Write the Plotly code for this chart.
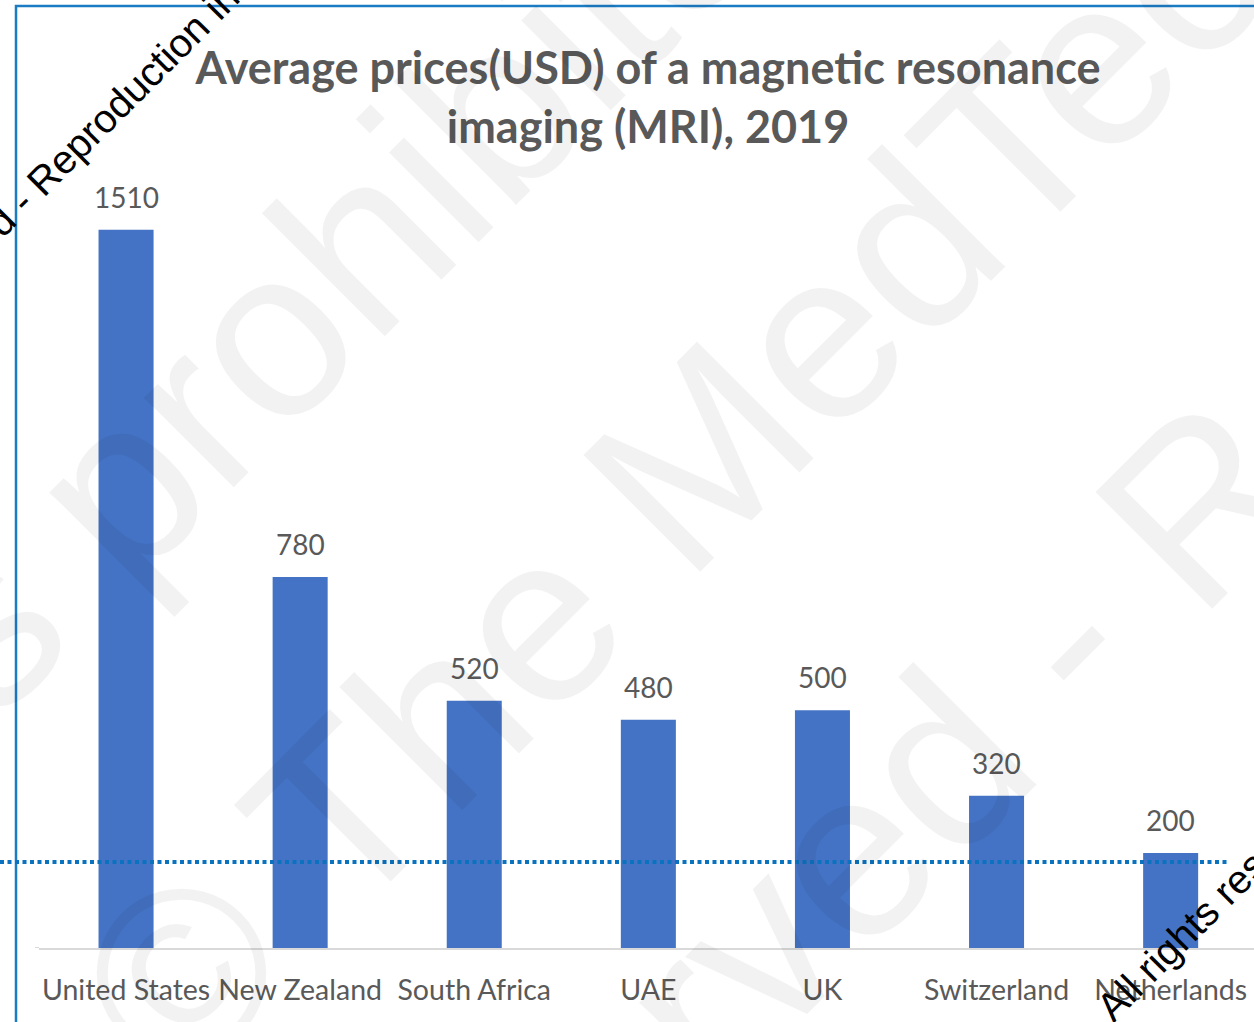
import math
import plotly.graph_objects as go

# ---------------- data ----------------
countries = ["United States", "New Zealand", "South Africa", "UAE", "UK", "Switzerland", "Netherlands"]
prices_usd = [1510, 780, 520, 480, 500, 320, 200]
title_line1 = "Average prices(USD) of a magnetic resonance"
title_line2 = "imaging (MRI), 2019"
reference_level = 181  # dotted horizontal guide line (USD)

# ---------------- geometry ----------------
W, H = 1254, 1022
ML, MR, MT, MB = 39, 0, 187, 74
PW, PH = W - ML - MR, H - MT - MB
Y_MAX = 1600


def px_x(px):
    return (px - ML) / PW


def px_y(py):
    return (H - MB - py) / PH


def wm_anchor(gx, gy, pre_em, up_em, fs, ang=45):
    """paper position (left, bottom of rotated box) so that a reference glyph lands at (gx, gy)"""
    t = math.radians(ang)
    ux, uy = math.cos(t), -math.sin(t)
    vx, vy = -math.sin(t), -math.cos(t)
    d = 0.212 * fs + 2 + up_em * fs
    pre = pre_em * fs + 2
    blx = gx - pre * ux - d * vx
    bly = gy - pre * uy - d * vy
    hbox = 1.15 * fs + 4
    left = blx - hbox * math.sin(t)
    return px_x(left), px_y(bly)


fig = go.Figure()

fig.add_trace(go.Bar(
    x=countries,
    y=prices_usd,
    marker=dict(color="#4472C4", line=dict(width=0)),
    hoverinfo="x+y",
))

annotations = []
# data labels
for c, v in zip(countries, prices_usd):
    annotations.append(dict(
        x=c, y=v, xref="x", yref="y", text=str(v), showarrow=False,
        yanchor="bottom", yshift=14,
        font=dict(family="Lato, Calibri, sans-serif", size=28, color="#595959"),
    ))

# light grey watermark (on top, semi-transparent)
grey = "rgba(0,0,0,0.05)"
gfs = 240
for text, gx, gy, pre, up in [
    ("Reproduction is prohibited", 372, 266, 8.892, 0.26),
    ("© The MedTech", 840, 350, 4.127, 0.26),
    ("All rights reserved - Reproduction is prohibited", 1081, 651, 8.447, 0.28),
]:
    ax_, ay_ = wm_anchor(gx, gy, pre, up, gfs)
    annotations.append(dict(
        x=ax_, y=ay_, xref="paper", yref="paper", text=text, showarrow=False,
        xanchor="left", yanchor="bottom", textangle=-45,
        font=dict(family="Liberation Sans, Arial, sans-serif", size=gfs, color=grey),
    ))

# black watermark text
bfs = 40
for gx, gy, pre, up in [(45, 177, 9.252, 0.358), (1114, 1004, 0.333, 0.358)]:
    ax_, ay_ = wm_anchor(gx, gy, pre, up, bfs)
    annotations.append(dict(
        x=ax_, y=ay_, xref="paper", yref="paper",
        text="All rights reserved - Reproduction in whole or in part is prohibited",
        showarrow=False, xanchor="left", yanchor="bottom", textangle=-45,
        font=dict(family="Liberation Sans, Arial, sans-serif", size=bfs, color="#000000"),
    ))

shapes = [
    # frame (top and left edges visible)
    dict(type="rect", xref="paper", yref="paper",
         x0=px_x(16), x1=px_x(W + 20), y0=px_y(H + 20), y1=px_y(6),
         line=dict(color="#1B7BC3", width=2.5), fillcolor="rgba(0,0,0,0)", layer="above"),
    # baseline extension to the left
    dict(type="line", xref="paper", yref="y",
         x0=px_x(35), x1=0, y0=0, y1=0,
         line=dict(color="#D9D9D9", width=2), layer="above"),
    # dotted guide line
    dict(type="line", xref="paper", yref="y",
         x0=px_x(0), x1=px_x(1229), y0=reference_level, y1=reference_level,
         line=dict(color="#0A72BE", width=4, dash="4px,3.5px"), layer="above"),
]

fig.update_layout(
    width=W, height=H,
    margin=dict(l=ML, r=MR, t=MT, b=MB, autoexpand=False),
    paper_bgcolor="white", plot_bgcolor="white",
    showlegend=False,
    bargap=0.684,
    title=dict(
        text=title_line1 + "<br>" + title_line2,
        x=648 / W, xanchor="center",
        y=1 - 84 / H, yanchor="middle", yref="container",
        font=dict(family="Lato, Calibri, sans-serif", size=45, color="#595959", weight="bold"),
    ),
    xaxis=dict(
        range=[-0.5, -0.5 + PW / 174.1],
        showgrid=False, zeroline=False,
        showline=True, linecolor="#D9D9D9", linewidth=2,
        ticks="", ticklabelstandoff=16,
        tickfont=dict(family="Lato, Calibri, sans-serif", size=28.5, color="#595959"),
    ),
    yaxis=dict(range=[0, Y_MAX], visible=False, showgrid=False, zeroline=False),
    annotations=annotations,
    shapes=shapes,
)

fig.write_html(
    "out.html",
    config={"displayModeBar": False},
    post_script="document.body.style.margin='0';document.body.style.overflow='hidden';",
)
